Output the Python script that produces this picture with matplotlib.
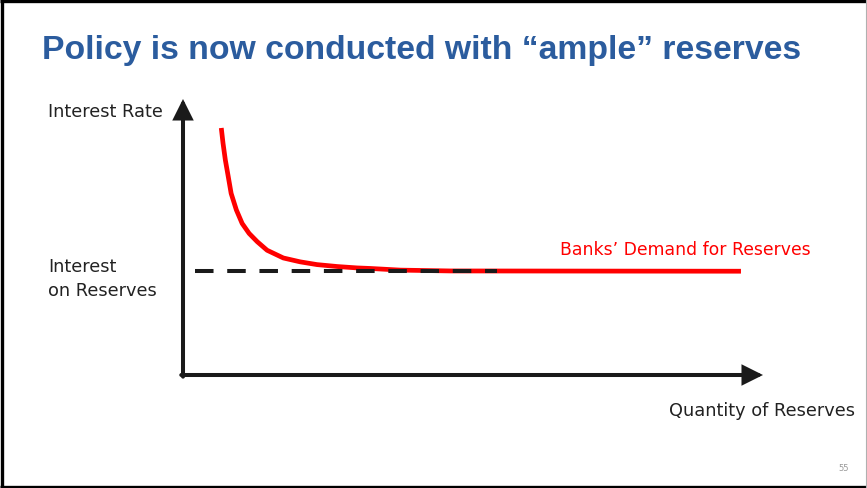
import matplotlib
matplotlib.use("Agg")
import matplotlib.pyplot as plt
from matplotlib.lines import Line2D

# Banks' demand for reserves: quantity (x) vs interest rate (y), arbitrary units
demand_quantity = [0.66, 0.69, 0.73, 0.78, 0.83, 0.92, 1.02, 1.14, 1.28,
                   1.45, 1.73, 2.02, 2.31, 2.66, 3.00, 3.23, 3.75, 4.61, 9.62]
demand_rate = [8.95, 8.40, 7.79, 7.19, 6.58, 5.98, 5.49, 5.13, 4.83,
               4.52, 4.24, 4.10, 4.00, 3.93, 3.88, 3.86, 3.80, 3.77, 3.76]

# Interest on reserves (administered rate) and the span of its dashed line
ior_rate = 3.77
ior_span = [0.21, 5.42]

title = "Policy is now conducted with \u201cample\u201d reserves"
y_label = "Interest Rate"
x_label = "Quantity of Reserves"
ior_label = "Interest\non Reserves"
demand_label = "Banks\u2019 Demand for Reserves"
page_number = "55"

W, H = 867, 489
fig = plt.figure(figsize=(W / 100, H / 100), dpi=100)
fig.patch.set_facecolor("white")


def fx(px):
    return px / W


def fy(py):
    return 1 - py / H


# slide frame: heavy black on left/top/bottom, thin grey on the right
frame = dict(transform=fig.transFigure, color="black", lw=2.4, solid_capstyle="butt")
fig.add_artist(Line2D([fx(1.5), fx(1.5)], [0, 1], **frame))
fig.add_artist(Line2D([0, 1], [fy(1.5), fy(1.5)], **frame))
fig.add_artist(Line2D([0, 1], [fy(487.5), fy(487.5)], **frame))
fig.add_artist(Line2D([fx(866), fx(866)], [0, 1], transform=fig.transFigure,
                      color="#b0b0b0", lw=0.8))

fig.text(fx(422), fy(51), title, ha="center", va="center",
         fontsize=24.3, fontweight="bold", color="#2b5c9e",
         family="Liberation Sans")

ax = fig.add_axes([fx(183), fy(376), fx(763 - 183), (376 - 100) / H])
ax.set_xlim(0, 10)
ax.set_ylim(0, 10)
ax.axis("off")

axis_col = "#1a1a1a"
arrow = dict(arrowstyle="-|>,head_length=0.9,head_width=0.45", lw=2.9,
             color=axis_col, shrinkA=0, shrinkB=0, mutation_scale=12,
             joinstyle="miter")
ax.annotate("", xy=(10, 0), xytext=(-0.03, 0), arrowprops=arrow,
            annotation_clip=False)
ax.annotate("", xy=(0, 10), xytext=(0, -0.06), arrowprops=arrow,
            annotation_clip=False)

ax.plot(demand_quantity, demand_rate, color="#ff0000", lw=3.4,
        solid_joinstyle="round", solid_capstyle="butt", zorder=3, clip_on=False)
ax.plot(ior_span, [ior_rate, ior_rate], color=axis_col, lw=2.9,
        linestyle=(0, (4.6, 3.4)), dash_capstyle="butt", zorder=4, clip_on=False)

txt = dict(fontsize=12.8, color="#222222", family="DejaVu Sans")
fig.text(fx(48), fy(112), y_label, ha="left", va="center", **txt)
fig.text(fx(48), fy(279), ior_label, ha="left", va="center",
         linespacing=1.4, **txt)
fig.text(fx(855), fy(411), x_label, ha="right", va="center", **txt)
fig.text(fx(811), fy(250), demand_label, ha="right", va="center",
         fontsize=12.4, color="#ff0000", family="DejaVu Sans")
fig.text(fx(849), fy(469), page_number, ha="right", va="center",
         fontsize=6, color="#999999")

fig.savefig("out.png", dpi=100)
